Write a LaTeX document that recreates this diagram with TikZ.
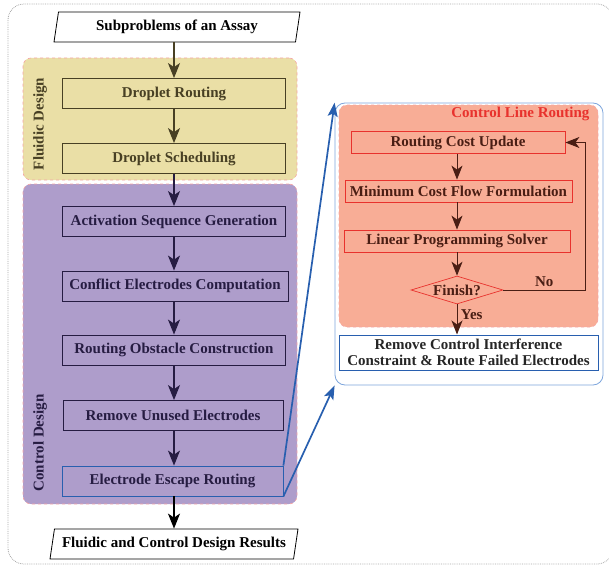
\documentclass[tikz,border=0pt]{standalone}
\usepackage{fontspec}
\setmainfont{Liberation Serif}
\usetikzlibrary{shapes.geometric,arrows.meta}

\definecolor{fluidfill}{RGB}{234,223,166}
\definecolor{ctrlfill}{RGB}{174,157,203}
\definecolor{linefill}{RGB}{248,173,150}
\definecolor{olivetext}{RGB}{72,64,36}
\definecolor{purpletext}{RGB}{38,28,66}
\definecolor{browntext}{RGB}{74,30,20}
\definecolor{redline}{RGB}{232,50,45}
\definecolor{bluelink}{RGB}{40,95,175}
\definecolor{panelblue}{RGB}{125,165,220}
\definecolor{dashpink}{RGB}{245,165,165}

\begin{document}
\begin{tikzpicture}[x=1pt,y=-1pt,
    font=\fontsize{15}{17}\selectfont\bfseries,
    region/.style={draw=dashpink, dashed, rounded corners=8pt, line width=0.6pt, inner sep=0pt},
    stepbox/.style={draw, rectangle, line width=0.8pt, inner sep=0pt, minimum height=30pt, minimum width=223pt},
    linebox/.style={draw=redline, fill=linefill, text=browntext, rectangle, line width=0.8pt, inner sep=0pt, minimum height=22pt},
    iobox/.style={draw, fill=white, trapezium, trapezium left angle=72, trapezium right angle=108,
        trapezium stretches body, line width=0.8pt, inner sep=0pt, minimum height=30pt},
    flow/.style={-{Stealth[length=15pt,width=12pt,inset=4pt]}, line width=1.4pt},
    back/.style={-{Stealth[length=14pt,width=11pt,inset=4pt]}, line width=1pt, browntext},
    link/.style={-{Stealth[length=14pt,width=10pt,inset=3pt]}, line width=1.7pt, bluelink}]
\useasboundingbox (0,0) rectangle (609,567);

\draw[gray!70, densely dotted, rounded corners=16pt, line width=0.8pt] (8,4) rectangle (613,564);

\node (fluid) [region, fill=fluidfill, minimum width=274pt, minimum height=122pt] at (160,119) {};
\node (ctrl) [region, fill=ctrlfill, minimum width=274pt, minimum height=320pt] at (160,344) {};
\node (fluidlabel) [rotate=90, text=olivetext] at (40,124) {Fluidic Design};
\node (ctrllabel) [rotate=90, text=purpletext] at (40,443) {Control Design};

\node (sub) [iobox, minimum width=246pt] at (177,27) {Subproblems of an Assay};
\node (route) [stepbox, draw=olivetext, text=olivetext] at (174,93.5) {Droplet Routing};
\node (sched) [stepbox, draw=olivetext, text=olivetext] at (174,158.5) {Droplet Scheduling};
\node (act) [stepbox, draw=purpletext, text=purpletext] at (174,221.5) {Activation Sequence Generation};
\node (conf) [stepbox, draw=purpletext, text=purpletext, minimum width=226pt] at (175,286) {Conflict Electrodes Computation};
\node (obst) [stepbox, draw=purpletext, text=purpletext] at (174,350) {Routing Obstacle Construction};
\node (unused) [stepbox, draw=purpletext, text=purpletext, minimum width=220pt] at (173,415.5) {Remove Unused Electrodes};
\node (escape) [stepbox, draw=bluelink, text=purpletext, minimum width=221pt] at (172.5,481) {Electrode Escape Routing};
\node (results) [iobox, minimum width=248pt] at (174,544) {Fluidic and Control Design Results};

\draw[flow, olivetext] (sub.south -| route) -- (route);
\draw[flow, olivetext] (route) -- (sched);
\draw[flow, purpletext] (sched) -- (act);
\draw[flow, purpletext] (act) -- (conf.north -| act);
\draw[flow, purpletext] (conf.south -| act) -- (obst);
\draw[flow, purpletext] (obst) -- (unused.north -| obst);
\draw[flow, purpletext] (unused.south -| obst) -- (escape.north -| obst);
\draw[flow, black] (escape.south -| obst) -- (results.north -| obst);

\node (panel) [draw=panelblue, fill=white, rounded corners=10pt, line width=0.8pt, inner sep=0pt,
    minimum width=268pt, minimum height=282pt] at (469,244) {};
\node (clr) [region, fill=linefill, minimum width=259pt, minimum height=222pt] at (468.5,216) {};
\node (title) [anchor=east, text=redline] at (593,114) {Control Line Routing};

\node (cost) [linebox, minimum width=214pt] at (458,142.5) {Routing Cost Update};
\node (mcf) [linebox, minimum width=227pt] at (458.5,191) {Minimum Cost Flow Formulation};
\node (lp) [linebox, minimum width=226pt] at (457,241) {Linear Programming Solver};
\node (finish) [diamond, draw=redline, fill=linefill, text=browntext, aspect=3.4, inner sep=0pt,
    minimum width=92pt, minimum height=28pt, line width=0.7pt] at (457,290) {Finish?};
\node (remove) [draw=bluelink, fill=white, text=black!85, align=center, line width=1pt, inner sep=0pt,
    minimum width=259pt, minimum height=35pt, font=\fontsize{15}{15.5}\selectfont\bfseries] at (468.5,352.5)
    {Remove Control Interference\\Constraint \& Route Failed Electrodes};
\coordinate (nocorner) at (585,290);

\draw[back] (cost.south -| finish) -- (mcf.north -| finish);
\draw[back] (mcf.south -| finish) -- (lp.north -| finish);
\draw[back] (lp.south -| finish) -- (finish.north);
\draw[back] (finish.east) -- node[above, text=browntext] {No} (nocorner) |- (cost.east);
\draw[back] (finish.south) -- node[right, pos=0.35, text=browntext] {Yes} (remove.north -| finish);

\draw[link] (escape.north east) -- (panel.north west);
\draw[link] (escape.south east) -- (panel.south west);
\end{tikzpicture}
\end{document}
